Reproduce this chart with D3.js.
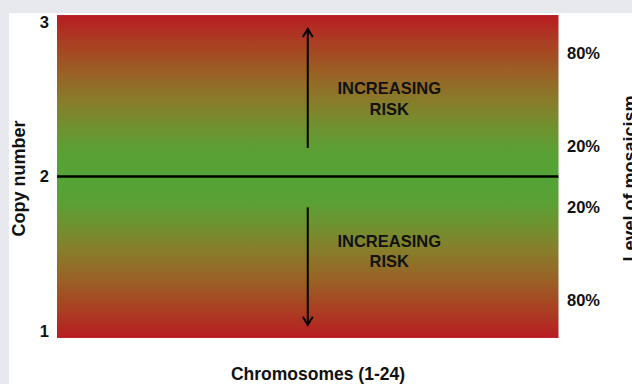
<!DOCTYPE html>
<html><head><meta charset="utf-8">
<script src="https://cdn.jsdelivr.net/npm/d3@7"></script>
<style>
html,body{margin:0;padding:0;background:#e8e9ee;}
svg{display:block;}
text{font-family:"Liberation Sans",Arial,Helvetica,sans-serif;font-weight:bold;fill:#111;}
</style></head>
<body>
<script>
// ---- data ----
const copyTicks = [1, 2, 3];
const normalCopy = 2;
const mosaicLevels = [0.8, 0.2, 0.2, 0.8];
const mosaicSigns = [1, 1, -1, -1];
const mosaicLabels = ["80%", "20%", "20%", "80%"];
const chromosomes = d3.range(1, 25);
const riskLabel = ["INCREASING", "RISK"];
const arrowsUp = [2.185, 2.955];
const arrowsDown = [1.80, 1.04];
const riskTextY = [[2.573, 2.437], [1.583, 1.453]];
const gradientStops = [
  {o: 0.00, c: "#b81c22"},
  {o: 0.08, c: "#ab3c22"},
  {o: 0.18, c: "#9a6126"},
  {o: 0.28, c: "#85802b"},
  {o: 0.36, c: "#6c9431"},
  {o: 0.42, c: "#5aa035"},
  {o: 0.50, c: "#54a336"},
  {o: 0.58, c: "#5aa035"},
  {o: 0.64, c: "#6c9431"},
  {o: 0.72, c: "#85802b"},
  {o: 0.82, c: "#9a6126"},
  {o: 0.92, c: "#ab3c22"},
  {o: 1.00, c: "#b81c22"}
];

const W = 632, H = 384;
const svg = d3.select("body").append("svg").attr("width", W).attr("height", H);

// white panel
svg.append("rect").attr("x", 9).attr("y", 13).attr("width", W - 9).attr("height", H - 13).attr("fill", "#ffffff");

const x = d3.scaleLinear().domain([0.5, 24.5]).range([57, 558.5]);
const y = d3.scaleLinear().domain([1, 3]).range([331, 22]);
const yDomainFull = [0.955, 3.045];

const defs = svg.append("defs");
const grad = defs.append("linearGradient").attr("id", "g").attr("x1", 0).attr("y1", 0).attr("x2", 0).attr("y2", 1);
grad.selectAll("stop").data(gradientStops).join("stop")
  .attr("offset", d => d.o).attr("stop-color", d => d.c);

const ar = defs.append("marker").attr("id", "ah").attr("viewBox", "-10 -7 12 14")
  .attr("markerWidth", 12).attr("markerHeight", 14).attr("markerUnits", "userSpaceOnUse")
  .attr("refX", 0).attr("refY", 0).attr("orient", "auto");
ar.append("path").attr("d", "M-8,-5 L0,0 L-8,5").attr("fill", "none").attr("stroke", "#000").attr("stroke-width", 2);

// gradient background
svg.append("rect")
  .attr("x", x(0.5)).attr("y", y(yDomainFull[1]))
  .attr("width", x(24.5) - x(0.5)).attr("height", y(yDomainFull[0]) - y(yDomainFull[1]))
  .attr("fill", "url(#g)");

// baseline at copy number 2
svg.append("line").attr("x1", x(0.5)).attr("x2", x(24.5))
  .attr("y1", y(normalCopy)).attr("y2", y(normalCopy))
  .attr("stroke", "#000").attr("stroke-width", 2.5);

// arrows
const midChr = (chromosomes[0] + chromosomes[chromosomes.length - 1]) / 2;
[arrowsUp, arrowsDown].forEach(a => {
  svg.append("line").attr("x1", x(midChr)).attr("x2", x(midChr))
    .attr("y1", y(a[0])).attr("y2", y(a[1]))
    .attr("stroke", "#000").attr("stroke-width", 2)
    .attr("marker-end", "url(#ah)");
});

// risk texts
const textChr = 16.4;
riskTextY.forEach(pair => {
  pair.forEach((v, i) => {
    svg.append("text").attr("x", x(textChr)).attr("y", y(v)).attr("dy", "0.36em")
      .attr("text-anchor", "middle").attr("font-size", 16.5).text(riskLabel[i]);
  });
});

// left tick labels
svg.selectAll(".yt").data(copyTicks).join("text")
  .attr("x", 49).attr("y", d => y(d)).attr("dy", "0.36em")
  .attr("text-anchor", "end").attr("font-size", 16.5).text(d => d);

// right mosaic labels
svg.selectAll(".rt").data(mosaicLevels).join("text")
  .attr("x", 567).attr("y", (d, i) => y(normalCopy + mosaicSigns[i] * d)).attr("dy", "0.36em")
  .attr("text-anchor", "start").attr("font-size", 16.5).text((d, i) => mosaicLabels[i]);

// axis titles
svg.append("text").attr("transform", `translate(25,${y(normalCopy) + 2}) rotate(-90)`)
  .attr("text-anchor", "middle").attr("font-size", 18).text("Copy number");
svg.append("text").attr("transform", `translate(636,${y(normalCopy) + 2}) rotate(-90)`)
  .attr("text-anchor", "middle").attr("font-size", 18).text("Level of mosaicism");
svg.append("text").attr("x", 318).attr("y", 380)
  .attr("text-anchor", "middle").attr("font-size", 17.5).text("Chromosomes (1-24)");
</script>
</body></html>
